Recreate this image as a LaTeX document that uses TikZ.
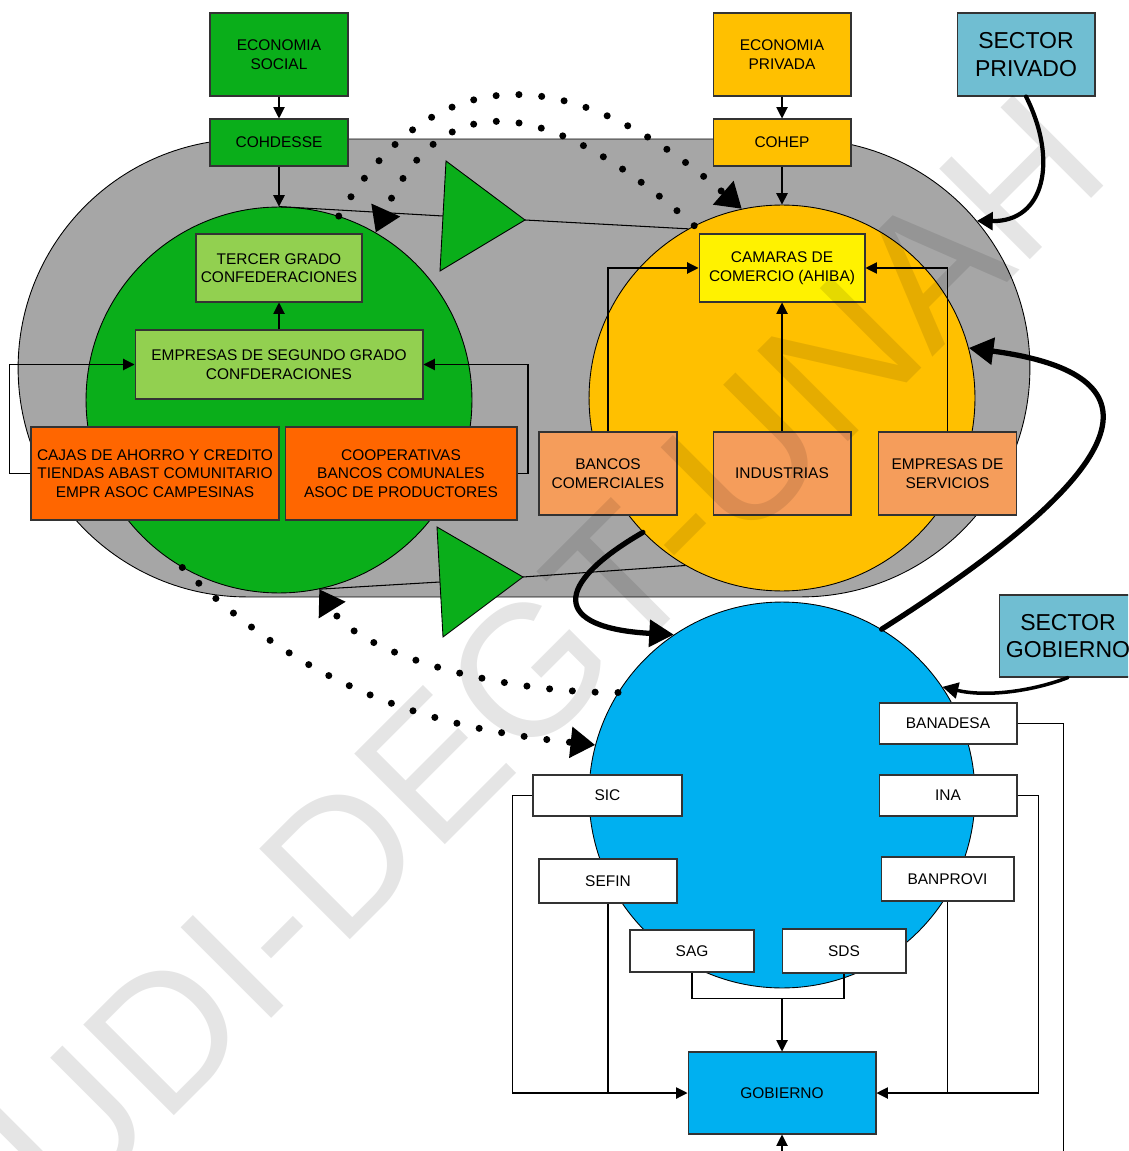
\documentclass[tikz,border=0pt]{standalone}
\usepackage{fontspec}
\setmainfont{Liberation Sans}
\usetikzlibrary{arrows.meta,shapes.misc}

\definecolor{verde}{RGB}{10,174,26}
\definecolor{verdeclaro}{HTML}{92D050}
\definecolor{ambar}{HTML}{FFC000}
\definecolor{naranja}{HTML}{FF6600}
\definecolor{salmon}{HTML}{F59D5B}
\definecolor{celeste}{HTML}{00B0F0}
\definecolor{sector}{HTML}{70BED2}
\definecolor{gris}{HTML}{A6A6A6}

\begin{document}
\begin{tikzpicture}[x=0.02cm, y=-0.02cm,
  caja/.style={draw=black!80, line width=0.6pt, align=center, inner sep=0pt,
    font=\fontsize{8.8}{10.5}\selectfont, minimum width=2.76cm, minimum height=1.66cm},
  grande/.style={font=\fontsize{13.1}{15.7}\selectfont},
  conn/.style={line width=0.6pt, -{Triangle[length=6.5pt,width=6.5pt]}},
  punteado/.style={line width=4pt, line cap=round, dash pattern=on 0pt off 13pt,
    -{Triangle[length=14pt,width=17pt]}},
  grueso/.style={line width=3pt, line cap=round, -{Triangle[length=14pt,width=15pt]}},
  circulo/.style={circle, draw, line width=0.5pt, minimum size=7.72cm, inner sep=0pt}]
\useasboundingbox (0,0) rectangle (1128,1151);
\clip (0,0) rectangle (1128,1151);

% fondo y circulos
\node[rounded rectangle, draw, fill=gris, line width=0.5pt, inner sep=0pt,
  minimum width=20.24cm, minimum height=9.16cm] (anillo) at (524,368) {};
\node[circulo, fill=verde] (green) at (279,400) {};
\node[circulo, fill=ambar] (orange) at (782,398) {};
\node[circulo, fill=celeste] (blue) at (782,795) {};

% triangulos de flujo
\coordinate (t1w) at (443,216);
\coordinate (t1p) at (525,220);
\coordinate (t2w) at (440,582);
\coordinate (t2p) at (523,577);
\draw [line width=0.6pt] (green.north) -- (t1w);
\draw [line width=0.6pt] (t1p) -- (orange.119);
\draw [line width=0.6pt] (green.282) -- (t2w);
\draw [line width=0.6pt] (t2p) -- (orange.240);
\draw [fill=verde, line width=0.5pt] (446,161) -- (440,271) -- (t1p) -- cycle;
\draw [fill=verde, line width=0.5pt] (437,527) -- (443,637) -- (t2p) -- cycle;

% cajas
\node[caja, fill=verde] (ecosoc) at (279,54.5) {ECONOMIA\\SOCIAL};
\node[caja, fill=verde, minimum height=0.94cm] (cohdesse) at (279,142.5) {COHDESSE};
\node[caja, fill=ambar] (ecopriv) at (782,54.5) {ECONOMIA\\PRIVADA};
\node[caja, fill=ambar, minimum height=0.94cm] (cohep) at (782,142.5) {COHEP};
\node[caja, grande, fill=sector] (secpriv) at (1026,54.5) {SECTOR\\PRIVADO};
\node[caja, fill=verdeclaro, minimum width=3.32cm, minimum height=1.36cm] (tercer) at (279,268) {TERCER GRADO\\CONFEDERACIONES};
\node[caja, fill=verdeclaro, minimum width=5.76cm, minimum height=1.38cm] (segundo) at (279,364.5) {EMPRESAS DE SEGUNDO GRADO\\CONFDERACIONES};
\node[caja, fill=naranja, minimum width=4.96cm, minimum height=1.86cm] (cajas) at (155,473.5) {CAJAS DE AHORRO Y CREDITO\\TIENDAS ABAST COMUNITARIO\\EMPR ASOC CAMPESINAS};
\node[caja, fill=naranja, minimum width=4.64cm, minimum height=1.86cm] (coop) at (401,473.5) {COOPERATIVAS\\BANCOS COMUNALES\\ASOC DE PRODUCTORES};
\node[caja, fill=yellow, minimum width=3.32cm, minimum height=1.36cm] (camaras) at (782,268) {CAMARAS DE\\COMERCIO (AHIBA)};
\node[caja, fill=salmon] (bancos) at (608,473.5) {BANCOS\\COMERCIALES};
\node[caja, fill=salmon] (industrias) at (782,473.5) {INDUSTRIAS};
\node[caja, fill=salmon] (servicios) at (947.5,473.5) {EMPRESAS DE\\SERVICIOS};
\node[caja, grande, fill=sector, minimum height=1.64cm] (secgob) at (1068,636) {SECTOR\\GOBIERNO};
\node[caja, fill=white, minimum height=0.82cm] (banadesa) at (948,723.5) {BANADESA};
\node[caja, fill=white, minimum height=0.82cm] (ina) at (948,795.5) {INA};
\node[caja, fill=white, minimum width=2.98cm, minimum height=0.82cm] (sic) at (607.5,795.5) {SIC};
\node[caja, fill=white, minimum height=0.88cm] (sefin) at (608,881) {SEFIN};
\node[caja, fill=white, minimum width=2.66cm, minimum height=0.88cm] (banprovi) at (947.5,879) {BANPROVI};
\node[caja, fill=white, minimum width=2.48cm, minimum height=0.84cm] (sag) at (692,951) {SAG};
\node[caja, fill=white, minimum width=2.48cm, minimum height=0.88cm] (sds) at (844,951) {SDS};
\node[caja, fill=celeste, minimum width=3.76cm, minimum height=1.64cm] (gobierno) at (782,1093) {GOBIERNO};

% conexiones
\draw [conn] (ecosoc) -- (cohdesse);
\draw [conn] (cohdesse) -- (green);
\draw [conn] (ecopriv) -- (cohep);
\draw [conn] (cohep) -- (orange);
\draw [conn] (segundo) -- (tercer);
\draw [conn] (cajas.west) -- ++(-21,0) |- (segundo.west);
\draw [conn] (coop.east) -- ++(10.5,0) |- (segundo.east);
\draw [conn] (industrias) -- (camaras);
\draw [conn] (bancos.north) |- (camaras.west);
\draw [conn] (servicios.north) |- (camaras.east);
\draw [conn] (sic.west) -- ++(-20,0) |- (gobierno.west);
\draw [line width=0.6pt] (sefin.south) -- (sefin.south |- gobierno.west);
\draw [conn] (ina.east) -- ++(20.5,0) |- (gobierno.east);
\draw [line width=0.6pt] (banprovi.south) -- (banprovi.south |- gobierno.east);
\draw [line width=0.6pt] (sag.south) -- ++(0,26) coordinate (union) -| (sds.south);
\draw [conn] (union -| gobierno.north) -- (gobierno.north);
\draw [conn] (banadesa.east) -- ++(45.5,0) -- ++(0,460) -| (gobierno.south);

% flujos punteados
\draw [punteado] (green.72) .. controls (433,58) and (568,58) .. (orange.102);
\draw [punteado] (orange.117) .. controls (541,89) and (440,89) .. (green.60);
\draw [punteado] (green.240) .. controls (314,697) and (445,729) .. (blue.165);
\draw [punteado] (blue.148) .. controls (500,693) and (360,655) .. (green.282);

% flechas gruesas
\draw [grueso] (orange.224) .. controls (552,585) and (552,628) .. (blue.124);
\draw [grueso] (blue.59) .. controls (1180,440) and (1135,370) .. (orange.15);
\draw [line width=2.4pt, line cap=round, -{Triangle[length=9pt,width=10pt]}] (secpriv.south) .. controls (1058,160) and (1045,222) .. (anillo.18);
\draw [line width=2pt, line cap=round, -{Triangle[length=9pt,width=9pt]}] (secgob.south) .. controls (1030,692) and (985,697) .. (blue.34);

% marca de agua
\node[rotate=45, anchor=base, text=black, text opacity=0.1,
  font=\fontsize{106}{106}\selectfont] (marca) at (592,698) {UDI-DEGT-UNAH};
\end{tikzpicture}
\end{document}
